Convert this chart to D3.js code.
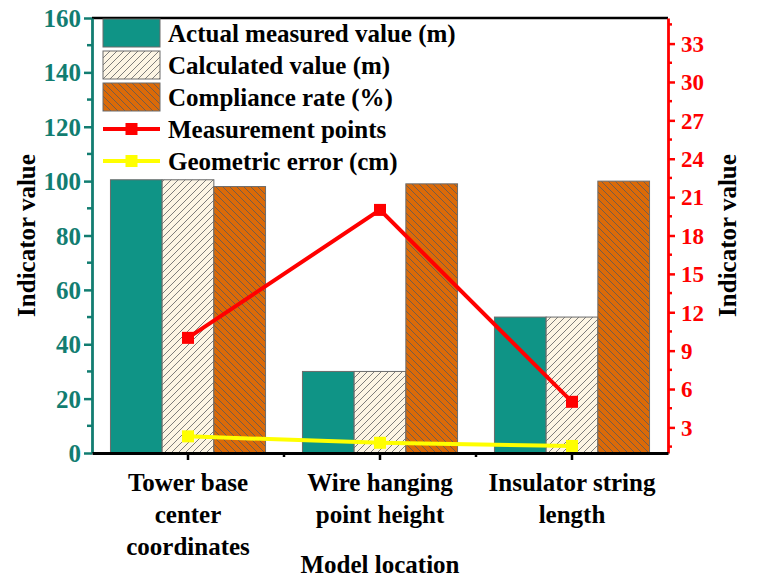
<!DOCTYPE html>
<html><head><meta charset="utf-8">
<script src="https://cdn.jsdelivr.net/npm/d3@7"></script>
<style>html,body{margin:0;padding:0;background:#fff}svg{display:block}
svg text{font-family:"Liberation Serif","Times New Roman","DejaVu Serif",serif;font-weight:bold}</style>
</head><body><svg id="c" width="757" height="582"></svg>
<script>
const categories = ["Tower base center coordinates", "Wire hanging point height", "Insulator string length"];
const categoryLines = [["Tower base", "center", "coordinates"], ["Wire hanging", "point height"], ["Insulator string", "length"]];
const actualMeasured = [100.5, 30, 50];
const calculatedValue = [100.5, 30, 50];
const complianceRate = [98, 99, 100];
const measurementPoints = [10, 20, 5];
const geometricError = [2.3, 1.8, 1.55];
const leftTicks = [0, 20, 40, 60, 80, 100, 120, 140, 160];
const rightTicks = [3, 6, 9, 12, 15, 18, 21, 24, 27, 30, 33];
const barSeries = ["Actual measured value (m)", "Calculated value (m)", "Compliance rate (%)"];
const lineSeries = ["Measurement points", "Geometric error (cm)"];

const svg = d3.select("#c");
const L = 92, R = 668, T = 18, B = 453;
const TEAL = "#0f9486", TEAL_AX = "#127d71", CREAM = "#fdf5e4", ORANGE = "#db6a08";

const defs = svg.append("defs");
const p1 = defs.append("pattern").attr("id","hatchF").attr("patternUnits","userSpaceOnUse").attr("width",7).attr("height",7);
p1.append("rect").attr("width",7).attr("height",7).attr("fill",CREAM);
p1.append("path").attr("d","M-1,1 l2,-2 M0,7 l7,-7 M6,8 l2,-2").attr("stroke","#6f6f6f").attr("stroke-width",0.9);
const p2 = defs.append("pattern").attr("id","hatchB").attr("patternUnits","userSpaceOnUse").attr("width",7).attr("height",7);
p2.append("rect").attr("width",7).attr("height",7).attr("fill",ORANGE);
p2.append("path").attr("d","M0,0 l7,7 M-1,6 l2,2 M6,-1 l2,2").attr("stroke","#6a5a50").attr("stroke-width",0.9);
const fills = [TEAL, "url(#hatchF)", "url(#hatchB)"];

const x0 = d3.scaleBand().domain(categories).range([L, R]).paddingInner(0).paddingOuter(0);
const x1 = d3.scaleBand().domain(barSeries).range([0, x0.bandwidth()]).paddingInner(0).paddingOuter(0.357);
const yL = d3.scaleLinear().domain([0, 160]).range([B, T]);
const yR = d3.scaleLinear().domain([1, 35]).range([B, T]);

const barData = [actualMeasured, calculatedValue, complianceRate];

// bars
categories.forEach((c, i) => {
  const g = svg.append("g").attr("transform", `translate(${x0(c)},0)`);
  g.selectAll("rect").data(barSeries.map((s, k) => ({s, k, v: barData[k][i]})))
    .join("rect")
    .attr("x", d => x1(d.s)).attr("width", x1.bandwidth())
    .attr("y", d => yL(d.v)).attr("height", d => B - yL(d.v))
    .attr("fill", d => fills[d.k]).attr("stroke", "#6b6b6b").attr("stroke-width", 1);
});

// lines
const cx = c => x0(c) + x0.bandwidth() / 2;
function drawLine(vals, color) {
  const pts = categories.map((c, i) => [cx(c), yR(vals[i])]);
  svg.append("path").attr("d", d3.line()(pts)).attr("fill","none").attr("stroke",color).attr("stroke-width",4).attr("stroke-linejoin","miter");
  svg.selectAll(null).data(pts).join("rect")
    .attr("x", d => d[0]-6).attr("y", d => d[1]-6).attr("width",12).attr("height",12).attr("fill",color);
}
drawLine(measurementPoints, "#ff0000");
drawLine(geometricError, "#ffff00");

// frame top
svg.append("line").attr("x1",L).attr("x2",R).attr("y1",T).attr("y2",T).attr("stroke","#000").attr("stroke-width",2.5);

// left axis
const gL = svg.append("g").attr("transform",`translate(${L},0)`);
gL.selectAll(".mn").data(d3.range(10,160,20)).join("line")
  .attr("x1",0).attr("x2",-5).attr("y1",d=>yL(d)).attr("y2",d=>yL(d)).attr("stroke",TEAL_AX).attr("stroke-width",2.5);
const axL = d3.axisLeft(yL).tickValues(leftTicks).tickSize(8).tickSizeOuter(0).tickPadding(3);
gL.call(axL);
gL.attr("font-family", null);
gL.select(".domain").attr("stroke",TEAL_AX).attr("stroke-width",2.8);
gL.selectAll(".tick line").attr("stroke",TEAL_AX).attr("stroke-width",2.5);
gL.selectAll(".tick text").attr("fill",TEAL_AX).style("font-size","25px").attr("dy","0.34em");

// right axis
const gR = svg.append("g").attr("transform",`translate(${R},0)`);
gR.selectAll(".mn").data(d3.range(1.5,35,3)).join("line")
  .attr("x1",0).attr("x2",4).attr("y1",d=>yR(d)).attr("y2",d=>yR(d)).attr("stroke","#ff0000").attr("stroke-width",2.5);
const axR = d3.axisRight(yR).tickValues(rightTicks).tickSize(7).tickSizeOuter(0).tickPadding(6);
gR.call(axR);
gR.attr("font-family", null);
gR.select(".domain").attr("stroke","#ff0000").attr("stroke-width",2.8);
gR.selectAll(".tick line").attr("stroke","#ff0000").attr("stroke-width",2.5);
gR.selectAll(".tick text").attr("fill","#ff0000").style("font-size","23px").attr("dy","0.34em");

// bottom axis
const gB = svg.append("g").attr("transform",`translate(0,${B})`);
gB.selectAll(".mn").data(categories.slice(1)).join("line")
  .attr("x1",d=>x0(d)).attr("x2",d=>x0(d)).attr("y1",0).attr("y2",4).attr("stroke","#000").attr("stroke-width",2.5);
const axB = d3.axisBottom(x0).tickSize(7).tickSizeOuter(0).tickFormat("");
gB.call(axB);
gB.select(".domain").attr("stroke","#000").attr("stroke-width",2.8);
gB.selectAll(".tick line").attr("stroke","#000").attr("stroke-width",2.5);

// category labels
categories.forEach((c, i) => {
  const t = svg.append("text").attr("x", cx(c)).attr("y", 491).attr("text-anchor","middle")
    .style("font-size","25px").attr("fill","#000");
  categoryLines[i].forEach((ln, j) => t.append("tspan").attr("x", cx(c)).attr("dy", j === 0 ? 0 : 32).text(ln));
});

// axis titles
svg.append("text").attr("x", (L+R)/2).attr("y", 573).attr("text-anchor","middle")
  .style("font-size","25px").text("Model location");
svg.append("text").attr("transform",`translate(35,${(T+B)/2}) rotate(-90)`).attr("text-anchor","middle")
  .style("font-size","25px").text("Indicator value");
svg.append("text").attr("transform",`translate(736,${(T+B)/2}) rotate(-90)`).attr("text-anchor","middle")
  .style("font-size","25px").text("Indicator value");

// legend
const lg = svg.append("g");
const lx = 103, ly0 = 33, lstep = 32;
barSeries.forEach((s, k) => {
  const y = ly0 + k*lstep;
  lg.append("rect").attr("x",lx).attr("y",y-14).attr("width",57).attr("height",28)
    .attr("fill",fills[k]).attr("stroke","#6b6b6b").attr("stroke-width",1);
  lg.append("text").attr("x",168).attr("y",y).attr("dy","0.34em").style("font-size","25px").text(s);
});
["#ff0000","#ffff00"].forEach((c, k) => {
  const y = ly0 + (k+3)*lstep;
  lg.append("line").attr("x1",lx).attr("x2",lx+57).attr("y1",y).attr("y2",y).attr("stroke",c).attr("stroke-width",4);
  lg.append("rect").attr("x",lx+28.5-6).attr("y",y-6).attr("width",12).attr("height",12).attr("fill",c);
  lg.append("text").attr("x",168).attr("y",y).attr("dy","0.34em").style("font-size","25px").text(lineSeries[k]);
});
</script></body></html>
